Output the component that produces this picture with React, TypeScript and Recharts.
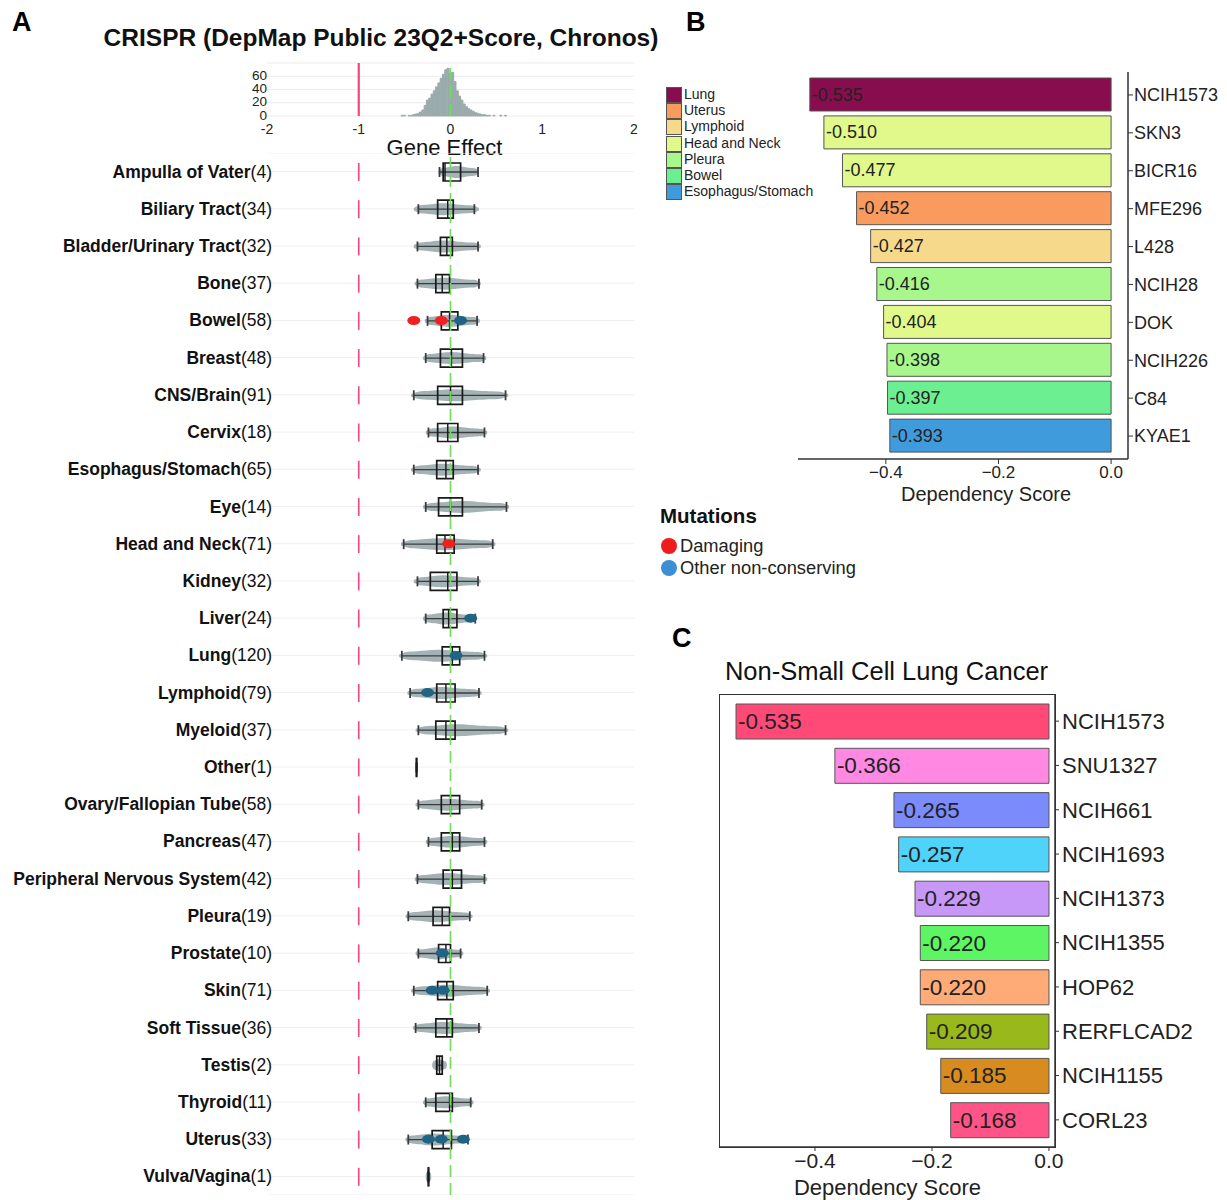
import React from 'react';
import {
  BarChart,
  ComposedChart,
  ScatterChart,
  Bar,
  Scatter,
  XAxis,
  YAxis,
  CartesianGrid,
  ReferenceLine,
  LabelList,
  Cell,
  Label,
} from 'recharts';

const FONT = '"Liberation Sans", Arial, Helvetica, sans-serif';
const INK = '#1a1a1a';

// ---------- Panel A: gene effect histogram (all lines) ----------
const histBins = [
  -0.525, -0.5, -0.475, -0.45, -0.425, -0.4, -0.375, -0.35, -0.325, -0.3, -0.275, -0.25, -0.225, -0.2,
  -0.175, -0.15, -0.125, -0.1, -0.075, -0.05, -0.025, 0, 0.025, 0.05, 0.075, 0.1, 0.125, 0.15, 0.175,
  0.2, 0.225, 0.25, 0.275, 0.3, 0.325, 0.35, 0.375, 0.4, 0.425, 0.45, 0.475, 0.5, 0.525, 0.55, 0.575, 0.6,
];
const histCounts = [
  1, 1, 0, 1, 1, 2, 3, 4, 6, 9, 16, 24, 27, 33, 38, 44, 50, 57, 63, 70, 72, 64, 66, 52, 38, 30, 24, 18, 14,
  11, 9, 7, 5, 4, 3, 2, 2, 1, 1, 0, 1, 0, 0, 1, 0, 1,
];

// ---------- Panel A: per lineage distributions ----------
const lineages = [
  'Ampulla of Vater', 'Biliary Tract', 'Bladder/Urinary Tract', 'Bone', 'Bowel', 'Breast', 'CNS/Brain',
  'Cervix', 'Esophagus/Stomach', 'Eye', 'Head and Neck', 'Kidney', 'Liver', 'Lung', 'Lymphoid', 'Myeloid',
  'Other', 'Ovary/Fallopian Tube', 'Pancreas', 'Peripheral Nervous System', 'Pleura', 'Prostate', 'Skin',
  'Soft Tissue', 'Testis', 'Thyroid', 'Uterus', 'Vulva/Vagina',
];
const lineageN = [4, 34, 32, 37, 58, 48, 91, 18, 65, 14, 71, 32, 24, 120, 79, 37, 1, 58, 47, 42, 19, 10, 71, 36, 2, 11, 33, 1];
const whiskerLo = [-0.12, -0.35, -0.36, -0.36, -0.25, -0.27, -0.4, -0.24, -0.4, -0.27, -0.51, -0.36, -0.27, -0.53, -0.44, -0.35, -0.37, -0.35, -0.24, -0.36, -0.46, -0.35, -0.4, -0.38, -0.15, -0.27, -0.46, -0.24];
const boxQ1 = [-0.08, -0.14, -0.11, -0.16, -0.1, -0.11, -0.14, -0.14, -0.15, -0.13, -0.15, -0.22, -0.08, -0.09, -0.15, -0.16, -0.372, -0.1, -0.1, -0.08, -0.19, -0.13, -0.14, -0.16, -0.15, -0.16, -0.2, -0.242];
const boxMedian = [-0.06, -0.03, -0.04, -0.09, -0.01, 0.01, 0.0, -0.03, -0.05, 0.0, -0.06, -0.03, -0.02, 0.02, -0.05, -0.05, -0.37, 0.0, 0.02, 0.02, -0.09, -0.05, -0.04, -0.04, -0.12, -0.01, -0.08, -0.24];
const boxQ3 = [0.11, 0.03, 0.02, -0.01, 0.08, 0.13, 0.13, 0.08, 0.03, 0.13, 0.04, 0.07, 0.07, 0.1, 0.05, 0.05, -0.368, 0.1, 0.1, 0.12, -0.01, 0.0, 0.03, 0.02, -0.09, 0.02, 0.01, -0.238];
const whiskerHi = [0.3, 0.26, 0.3, 0.31, 0.29, 0.36, 0.6, 0.37, 0.3, 0.61, 0.46, 0.3, 0.27, 0.37, 0.31, 0.6, -0.37, 0.34, 0.37, 0.37, 0.21, 0.11, 0.4, 0.31, -0.09, 0.22, 0.19, -0.24];
const violinLo = [-0.13, -0.4, -0.4, -0.39, -0.28, -0.3, -0.43, -0.27, -0.43, -0.3, -0.54, -0.4, -0.3, -0.56, -0.47, -0.38, -0.37, -0.38, -0.27, -0.39, -0.49, -0.38, -0.43, -0.41, -0.2, -0.3, -0.49, -0.27];
const violinHi = [0.31, 0.31, 0.33, 0.33, 0.32, 0.39, 0.63, 0.4, 0.33, 0.64, 0.49, 0.33, 0.27, 0.4, 0.34, 0.63, -0.37, 0.37, 0.4, 0.4, 0.24, 0.14, 0.43, 0.34, -0.04, 0.25, 0.2, -0.21];

const mutationLineage = ['Bowel', 'Bowel', 'Bowel', 'Head and Neck', 'Liver', 'Lung', 'Lymphoid', 'Prostate', 'Skin', 'Skin', 'Uterus', 'Uterus', 'Uterus'];
const mutationEffect = [-0.4, -0.1, 0.11, -0.02, 0.22, 0.06, -0.25, -0.09, -0.2, -0.08, -0.24, -0.1, 0.14];
const mutationKind = ['Damaging', 'Damaging', 'Other', 'Damaging', 'Other', 'Other', 'Other', 'Other', 'Other', 'Other', 'Other', 'Other', 'Other'];

const LOSS_LINE = -1;

// ---------- Panel B: top dependent lines, all lineages ----------
const bCells = ['NCIH1573', 'SKN3', 'BICR16', 'MFE296', 'L428', 'NCIH28', 'DOK', 'NCIH226', 'C84', 'KYAE1'];
const bScores = [-0.535, -0.51, -0.477, -0.452, -0.427, -0.416, -0.404, -0.398, -0.397, -0.393];
const bLineage = ['Lung', 'Head and Neck', 'Head and Neck', 'Uterus', 'Lymphoid', 'Pleura', 'Head and Neck', 'Pleura', 'Bowel', 'Esophagus/Stomach'];
const bLegend = ['Lung', 'Uterus', 'Lymphoid', 'Head and Neck', 'Pleura', 'Bowel', 'Esophagus/Stomach'];
const bLegendColours = ['#880d4f', '#f99a5f', '#f6d98b', '#e1f88b', '#a8f78c', '#6cef90', '#3f9bdc'];

// ---------- Panel C: non-small cell lung cancer lines ----------
const cCells = ['NCIH1573', 'SNU1327', 'NCIH661', 'NCIH1693', 'NCIH1373', 'NCIH1355', 'HOP62', 'RERFLCAD2', 'NCIH1155', 'CORL23'];
const cScores = [-0.535, -0.366, -0.265, -0.257, -0.229, -0.22, -0.22, -0.209, -0.185, -0.168];
const cColours = ['#ff4a78', '#ff88e2', '#7b8bfb', '#4fd3fb', '#c898f8', '#5ef564', '#ffab78', '#98b81c', '#d88c20', '#ff5487'];

const rows = lineages.map((name, i) => ({
  name,
  violin: [violinLo[i], violinHi[i]],
  whisker: [whiskerLo[i], whiskerHi[i]],
  box: [boxQ1[i], boxQ3[i]],
  median: [boxMedian[i] - 0.008, boxMedian[i] + 0.008],
  loss: [LOSS_LINE - 0.009, LOSS_LINE + 0.009],
}));

const hist = histBins.map((bin, i) => ({ bin, count: histCounts[i] }));

const mutations = mutationEffect.map((effect, i) => ({
  effect,
  row: lineages.indexOf(mutationLineage[i]),
  kind: mutationKind[i],
}));

const bRows = bCells.map((cell, i) => ({ cell, score: bScores[i], lineage: bLineage[i] }));
const cRows = cCells.map((cell, i) => ({ cell, score: cScores[i] }));

const fmtAxis = (v: number) => (v === 0 ? '0.0' : '\u2212' + Math.abs(v).toFixed(1));

const ViolinShape = (p: any) => {
  const { x, y, width, height } = p;
  const left = Math.min(x, x + width);
  const w = Math.abs(width);
  if (!w || w < 1) return null;
  const cy = y + height / 2;
  const half = height / 2;
  const n = 30;
  const top: string[] = [];
  const bot: string[] = [];
  for (let k = 0; k <= n; k++) {
    const t = k / n;
    const taper = Math.min(1, 0.35 + t * 8, 0.35 + (1 - t) * 8);
    const body = 0.62 + 0.38 * Math.exp(-Math.pow((t - 0.45) / 0.25, 2));
    const h = half * taper * body;
    top.push(`${(left + w * t).toFixed(2)},${(cy - h).toFixed(2)}`);
    bot.unshift(`${(left + w * t).toFixed(2)},${(cy + h).toFixed(2)}`);
  }
  return <path d={`M${top.join(' L')} L${bot.join(' L')} Z`} fill="#a3b2b5" />;
};

const WhiskerShape = (p: any) => {
  const { x, y, width, height } = p;
  const l = Math.min(x, x + width);
  const r = Math.max(x, x + width);
  const cy = y + height / 2;
  return (
    <g stroke="#3c3c3c">
      <line x1={l} x2={r} y1={cy} y2={cy} strokeWidth={1.3} />
      <line x1={l} x2={l} y1={cy - 5} y2={cy + 5} strokeWidth={1.8} />
      <line x1={r} x2={r} y1={cy - 5} y2={cy + 5} strokeWidth={1.8} />
    </g>
  );
};

const BoxShape = (p: any) => {
  const { x, y, width, height } = p;
  const l = Math.min(x, x + width);
  const w = Math.abs(width);
  return (
    <path
      d={`M${l},${y} h${w} v${height} h${-w} Z`}
      fill="none"
      stroke={INK}
      strokeWidth={1.7}
    />
  );
};

const LineageTick = (p: any) => {
  const { x, y, payload } = p;
  const n = lineageN[lineages.indexOf(payload.value)];
  return (
    <text x={x + 5} y={y} dominantBaseline="central" textAnchor="end" fontFamily={FONT} fontSize={17.5} fill="#111">
      <tspan fontWeight="bold">{payload.value}</tspan>
      <tspan>({n})</tspan>
    </text>
  );
};

const MutationDot = (colour: string) => (p: any) => (
  <ellipse cx={p.cx} cy={p.cy} rx={6.5} ry={4.5} fill={colour} />
);

const barLabel = (fontSize: number) => (p: any) => {
  const { x, y, width, height, value } = p;
  const left = Math.min(x, x + width);
  return (
    <text x={left + 2} y={y + height / 2} dominantBaseline="central" fontFamily={FONT} fontSize={fontSize} fill="#222">
      {Number(value).toFixed(3)}
    </text>
  );
};

const abs = (left: number, top: number, extra: React.CSSProperties = {}): React.CSSProperties => ({
  position: 'absolute',
  left,
  top,
  lineHeight: 1,
  fontFamily: FONT,
  whiteSpace: 'nowrap',
  ...extra,
});

export default function App() {
  return (
    <div style={{ position: 'relative', width: 1227, height: 1200, background: '#fff', overflow: 'hidden' }}>
      <style>{'body{margin:0;}'}</style>

      {/* panel letters and titles */}
      <div style={abs(12, 9, { fontSize: 27, fontWeight: 'bold' })}>A</div>
      <div style={abs(686, 9, { fontSize: 27, fontWeight: 'bold' })}>B</div>
      <div style={abs(672, 625, { fontSize: 27, fontWeight: 'bold' })}>C</div>
      <div style={abs(0, 26, { width: 762, textAlign: 'center', fontSize: 24.5, fontWeight: 'bold', color: '#111' })}>
        CRISPR (DepMap Public 23Q2+Score, Chronos)
      </div>

      {/* A: histogram */}
      <div style={{ position: 'absolute', left: 0, top: 0 }}>
        <BarChart width={640} height={160} data={hist} margin={{ top: 63, right: 6, bottom: 0, left: 0 }}>
          <CartesianGrid vertical={false} stroke="#ececec" />
          <XAxis
            type="number"
            dataKey="bin"
            domain={[-2, 2]}
            ticks={[-2, -1, 0, 1, 2]}
            interval={0}
            height={44}
            axisLine={false}
            tickLine={false}
            tickSize={0}
            tick={(p: any) => (
              <text x={p.x} y={p.y + 10.5} dominantBaseline="central" textAnchor="middle" fontFamily={FONT} fontSize={14} fill="#222">
                {p.payload.value}
              </text>
            )}
          >
            <Label value="Gene Effect" position="insideBottom" offset={5} dx={-6} fontFamily={FONT} fontSize={22} fill="#111" />
          </XAxis>
          <YAxis
            width={267}
            domain={[0, 80]}
            ticks={[0, 20, 40, 60]}
            interval={0}
            axisLine={false}
            tickLine={false}
            tickSize={0}
            tick={(p: any) => (
              <text x={p.x + 2} y={p.y - 1} dominantBaseline="central" textAnchor="end" fontFamily={FONT} fontSize={13.5} fill="#222">
                {p.payload.value}
              </text>
            )}
          />
          <ReferenceLine x={LOSS_LINE} stroke="#f4467f" strokeWidth={2.2} />
          <Bar dataKey="count" barSize={3} fill="#9aabac" stroke="#9aabac" strokeWidth={1} isAnimationActive={false} />
          <ReferenceLine x={0} stroke="#6fdc5c" strokeWidth={1.5} strokeDasharray="12 6" />
        </BarChart>
      </div>

      {/* A: lineage box plots */}
      <div style={{ position: 'absolute', left: 0, top: 153 }}>
        <ComposedChart layout="vertical" width={640} height={1042} data={rows} margin={{ top: 0, right: 6, bottom: 0, left: 0 }}>
          <XAxis type="number" domain={[-2, 2]} hide allowDataOverflow />
          <YAxis
            yAxisId="label"
            type="category"
            dataKey="name"
            width={267}
            axisLine={false}
            tickLine={false}
            tickSize={0}
            tickMargin={0}
            interval={0}
            tick={LineageTick}
          />
          <YAxis yAxisId="violin" type="category" dataKey="name" width={0} hide />
          <YAxis yAxisId="whisker" type="category" dataKey="name" width={0} hide />
          <YAxis yAxisId="box" type="category" dataKey="name" width={0} hide />
          <YAxis yAxisId="median" type="category" dataKey="name" width={0} hide />
          <YAxis yAxisId="loss" type="category" dataKey="name" width={0} hide />
          <CartesianGrid yAxisId="label" vertical={false} stroke="#efefef" />
          <ReferenceLine yAxisId="label" x={0} stroke="#6fdc5c" strokeWidth={1.6} strokeDasharray="12 6" />
          <Bar yAxisId="violin" dataKey="violin" barSize={12} shape={ViolinShape} isAnimationActive={false} />
          <Bar yAxisId="whisker" dataKey="whisker" barSize={10} shape={WhiskerShape} isAnimationActive={false} />
          <Bar yAxisId="box" dataKey="box" barSize={18} shape={BoxShape} isAnimationActive={false} />
          <Bar yAxisId="median" dataKey="median" barSize={18} fill={INK} isAnimationActive={false} />
          <Bar yAxisId="loss" dataKey="loss" barSize={18} fill="#f4467f" isAnimationActive={false} />
        </ComposedChart>
      </div>

      {/* A: mutated lines */}
      <div style={{ position: 'absolute', left: 0, top: 153 }}>
        <ScatterChart width={640} height={1042} margin={{ top: 0, right: 6, bottom: 0, left: 267 }}>
          <XAxis type="number" dataKey="effect" domain={[-2, 2]} hide />
          <YAxis type="number" dataKey="row" domain={[-0.5, 27.5]} reversed hide />
          <Scatter data={mutations.filter((m) => m.kind === 'Damaging')} shape={MutationDot('#ee2020')} isAnimationActive={false} />
          <Scatter data={mutations.filter((m) => m.kind === 'Other')} shape={MutationDot('#1f6385')} isAnimationActive={false} />
        </ScatterChart>
      </div>

      {/* B: legend */}
      {bLegend.map((name, i) => (
        <React.Fragment key={name}>
          <div style={abs(666, 87 + i * 16.2, { width: 14, height: 14, background: bLegendColours[i], border: '1px solid #555' })} />
          <div style={abs(684, 87 + i * 16.2, { fontSize: 14, color: '#222' })}>{name}</div>
        </React.Fragment>
      ))}

      {/* B: bars */}
      <div style={{ position: 'absolute', left: 790, top: 60 }}>
        <BarChart layout="vertical" width={437} height={450} data={bRows} margin={{ top: 12, right: 0, bottom: 11, left: 8 }}>
          <XAxis
            type="number"
            domain={[-0.556, 0.03]}
            ticks={[-0.4, -0.2, 0]}
            allowDataOverflow
            height={40}
            tickFormatter={fmtAxis}
            axisLine={{ stroke: '#333', strokeWidth: 1.5 }}
            tickLine={{ stroke: '#333' }}
            tickSize={5}
            tickMargin={2}
            tick={{ fontFamily: FONT, fontSize: 17, fill: '#222' }}
          >
            <Label value="Dependency Score" position="insideBottom" offset={-2} dx={23} fontFamily={FONT} fontSize={20} fill="#222" />
          </XAxis>
          <YAxis
            type="category"
            dataKey="cell"
            orientation="right"
            width={99}
            padding={{ top: 4, bottom: 4 }}
            axisLine={{ stroke: '#333', strokeWidth: 1.5 }}
            tickLine={{ stroke: '#333' }}
            tickSize={5}
            tickMargin={1}
            interval={0}
            tick={{ fontFamily: FONT, fontSize: 18, fill: '#222' }}
          />
          <Bar dataKey="score" barSize={33} stroke="#555" strokeWidth={1} isAnimationActive={false}>
            {bRows.map((r) => (
              <Cell key={r.cell} fill={bLegendColours[bLegend.indexOf(r.lineage)]} />
            ))}
            <LabelList dataKey="score" content={barLabel(18)} />
          </Bar>
        </BarChart>
      </div>

      {/* mutation legend */}
      <div style={abs(660, 506, { fontSize: 20.5, fontWeight: 'bold', color: '#111' })}>Mutations</div>
      <div style={abs(661, 538, { width: 16, height: 16, borderRadius: 8, background: '#ee1c1c' })} />
      <div style={abs(680, 537, { fontSize: 18.3, color: '#222' })}>Damaging</div>
      <div style={abs(661, 560, { width: 16, height: 16, borderRadius: 8, background: '#3d8fd4' })} />
      <div style={abs(680, 559, { fontSize: 18.3, color: '#222' })}>Other non-conserving</div>

      {/* C */}
      <div style={abs(712, 659, { width: 349, textAlign: 'center', fontSize: 25.5, color: '#111' })}>
        Non-Small Cell Lung Cancer
      </div>
      <div style={{ position: 'absolute', left: 719.25, top: 694.25, width: 335, height: 452, border: '1.5px solid #333' }} />
      <div style={{ position: 'absolute', left: 712, top: 690 }}>
        <BarChart layout="vertical" width={515} height={510} data={cRows} margin={{ top: 5, right: 0, bottom: 0, left: 8 }}>
          <XAxis
            type="number"
            domain={[-0.5624, 0.0103]}
            ticks={[-0.4, -0.2, 0]}
            allowDataOverflow
            height={53}
            tickFormatter={fmtAxis}
            axisLine={{ stroke: '#333', strokeWidth: 1.5 }}
            tickLine={{ stroke: '#333' }}
            tickSize={4}
            tickMargin={2}
            tick={{ fontFamily: FONT, fontSize: 21, fill: '#222' }}
          >
            <Label value="Dependency Score" position="insideBottom" offset={5} fontFamily={FONT} fontSize={22} fill="#222" />
          </XAxis>
          <YAxis
            type="category"
            dataKey="cell"
            orientation="right"
            width={172}
            padding={{ top: 4, bottom: 5 }}
            axisLine={{ stroke: '#333', strokeWidth: 1.5 }}
            tickLine={{ stroke: '#333' }}
            tickSize={4}
            tickMargin={3}
            interval={0}
            tick={{ fontFamily: FONT, fontSize: 22, fill: '#222' }}
          />
          <Bar dataKey="score" barSize={35} stroke="#555" strokeWidth={1} isAnimationActive={false}>
            {cRows.map((r, i) => (
              <Cell key={r.cell} fill={cColours[i]} />
            ))}
            <LabelList dataKey="score" content={barLabel(22.5)} />
          </Bar>
        </BarChart>
      </div>
    </div>
  );
}
